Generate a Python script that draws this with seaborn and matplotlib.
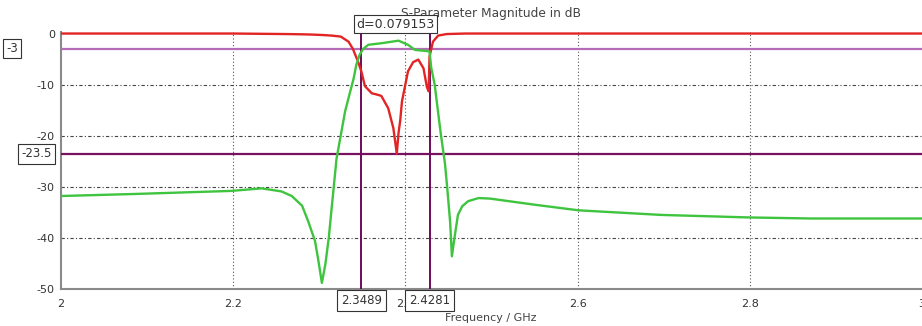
import matplotlib
matplotlib.use("Agg")
import matplotlib.pyplot as plt
import seaborn as sns
import pandas as pd

# ---- data ----
s11_freq = [2.0, 2.2, 2.26, 2.28, 2.291, 2.305, 2.314, 2.325, 2.334, 2.339, 2.345, 2.349,
            2.353, 2.361, 2.366, 2.372, 2.380, 2.386, 2.390, 2.392, 2.394, 2.396, 2.403,
            2.409, 2.415, 2.421, 2.425, 2.427, 2.428, 2.432, 2.438, 2.448, 2.47, 2.6, 3.0]
s11_db = [0.0, 0.0, -0.1, -0.15, -0.2, -0.3, -0.4, -0.6, -1.6, -3.0, -5.5, -7.5,
          -10.3, -11.7, -11.9, -12.2, -14.6, -18.5, -23.5, -19.5, -17.0, -13.3, -7.4,
          -5.6, -5.1, -6.8, -10.5, -11.3, -4.5, -1.6, -0.4, -0.1, 0.0, 0.0, 0.0]

s21_freq = [2.0, 2.086, 2.198, 2.233, 2.256, 2.268, 2.280, 2.287, 2.295, 2.299, 2.303,
            2.307, 2.311, 2.314, 2.320, 2.330, 2.340, 2.343, 2.347, 2.351, 2.357, 2.372,
            2.392, 2.403, 2.411, 2.423, 2.428, 2.430, 2.434, 2.441, 2.446, 2.449, 2.452,
            2.454, 2.457, 2.461, 2.466, 2.473, 2.485, 2.498, 2.55, 2.601, 2.697, 2.800,
            2.871, 3.0]
s21_db = [-31.8, -31.4, -30.8, -30.3, -30.9, -31.8, -33.7, -36.7, -40.6, -44.5, -48.8,
          -45.2, -40.0, -34.8, -24.5, -15.2, -8.7, -6.1, -4.1, -3.0, -2.2, -1.9,
          -1.4, -2.2, -3.2, -3.4, -3.5, -6.7, -10.0, -19.5, -25.5, -31.0, -37.0,
          -43.6, -40.0, -35.5, -33.8, -32.8, -32.2, -32.3, -33.5, -34.6, -35.5, -36.0,
          -36.2, -36.2]

x_ticks = [2.0, 2.2, 2.4, 2.6, 2.8, 3.0]
x_tick_labels = ["2", "2.2", "2.4", "2.6", "2.8", "3"]
y_ticks = [0, -10, -20, -30, -40, -50]
y_tick_labels = ["0", "-10", "-20", "-30", "-40", "-50"]

marker_x = [2.3489, 2.4281]
marker_x_labels = ["2.3489", "2.4281"]
marker_y = [-3, -23.5]
marker_y_labels = ["-3", "-23.5"]
delta_label = "d=0.079153"

title = "S-Parameter Magnitude in dB"
xlabel = "Frequency / GHz"

# ---- plot ----
sns.set_style("white")
plt.rcParams['font.family'] = ['DejaVu Sans']

fig = plt.figure(figsize=(9.22, 3.26), dpi=100)
ax = fig.add_axes([61/922, 37/326, 1 - 61/922, 257/326])

df = pd.concat([
    pd.DataFrame({"f": s11_freq, "db": s11_db, "s": "S11"}),
    pd.DataFrame({"f": s21_freq, "db": s21_db, "s": "S21"}),
])
sns.lineplot(data=df, x="f", y="db", hue="s", palette={"S11": "#e32424", "S21": "#3ec43e"},
             linewidth=1.7, legend=False, ax=ax, zorder=4, estimator=None, sort=False)

ax.set_xlim(2.0, 3.0)
ax.set_ylim(-50, 0.3)

# grid
for xt in x_ticks[1:-1]:
    ax.axvline(xt, color="#555555", lw=0.8, ls=(0, (1, 2)), zorder=1)
for yt in y_ticks[1:-1]:
    ax.axhline(yt, color="#444444", lw=0.8, ls=(0, (3, 2, 1, 2)), zorder=1)

# marker lines
ax.axhline(marker_y[0], color="#b46cb8", lw=1.6, zorder=3)
ax.axhline(marker_y[1], color="#7a1060", lw=1.6, zorder=3)
for mx in marker_x:
    ax.axvline(mx, color="#6e0a58", lw=1.4, zorder=3)

# spines
for s in ["top", "right"]:
    ax.spines[s].set_visible(False)
for s in ["left", "bottom"]:
    ax.spines[s].set_color("#8a8a8a")
    ax.spines[s].set_linewidth(1.5)

ax.set_xticks(x_ticks)
ax.set_xticklabels(x_tick_labels)
ax.set_yticks(y_ticks)
ax.set_yticklabels(y_tick_labels)
ax.tick_params(axis="both", labelsize=8, colors="#333333", length=3, width=0.8,
               direction="inout")
ax.tick_params(axis="x", pad=6)
ax.tick_params(axis="y", pad=3)
ax.set_xlabel("")
ax.set_ylabel("")

tkw = dict(fontsize=8.5, color="#333333")

def box(pad):
    return dict(boxstyle=f"square,pad={pad}", fc="white", ec="#333333", lw=0.8)

# boxed y marker labels
ax.text(-0.064, marker_y[0], marker_y_labels[0], transform=ax.get_yaxis_transform(),
        ha="left", va="center", bbox=box(0.25), clip_on=False, **tkw)
ax.text(-0.011, marker_y[1], marker_y_labels[1], transform=ax.get_yaxis_transform(),
        ha="right", va="center", bbox=box(0.3), clip_on=False, **tkw)

# boxed x marker labels
for mx, lab in zip(marker_x, marker_x_labels):
    ax.text(mx, -0.02, lab, transform=ax.get_xaxis_transform(), ha="center", va="top",
            bbox=box(0.35), clip_on=False, zorder=6, **tkw)

# delta label
ax.text((marker_x[0] + marker_x[1]) / 2, 1.0 + 1.5 / 257, delta_label,
        transform=ax.get_xaxis_transform(), ha="center", va="bottom", zorder=7,
        bbox=box(0.2), clip_on=False, fontsize=9, color="#333333")

fig.text((61 + 921) / 2 / 922, 1 - 14 / 326, title, ha="center", va="center",
         fontsize=8.8, color="#444444", zorder=-1)
fig.text(491 / 922, 1 - 318 / 326, xlabel, ha="center", va="center",
         fontsize=8, color="#444444")

fig.savefig("out.png", dpi=100)
